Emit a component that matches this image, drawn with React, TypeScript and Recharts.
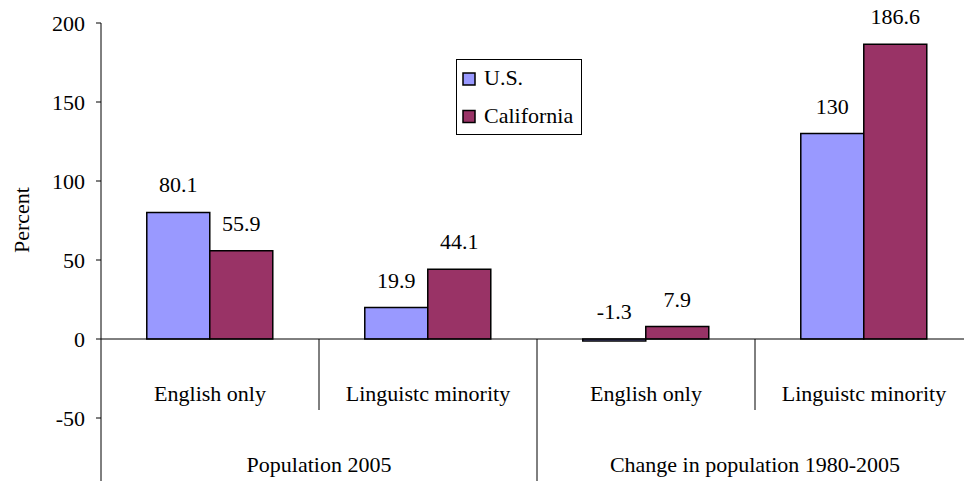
import React from "react"
import { BarChart, Bar, XAxis, YAxis, ReferenceLine, Legend, LabelList } from "recharts"

const categories = ["English only", "Linguistc minority", "English only", "Linguistc minority"]
const groups = ["Population 2005", "Change in population 1980-2005"]
const seriesNames = ["U.S.", "California"]
const usValues = [80.1, 19.9, -1.3, 130]
const caValues = [55.9, 44.1, 7.9, 186.6]
const yTicks = [-50, 0, 50, 100, 150, 200]
const yDomain = [-100, 200]

const data = categories.map((c, i) => ({ key: i, name: c, us: usValues[i], ca: caValues[i] }))

const FONT = "Liberation Serif, Times New Roman, serif"
const W = 990
const H = 517
const TOP = 23
const AXIS_H = 20
const BOTTOM = 0
const AXIS_W = 101
const RIGHT = 17
const PLOT_H = H - TOP - BOTTOM - AXIS_H
const ZERO_Y = TOP + (PLOT_H * yDomain[1]) / (yDomain[1] - yDomain[0])
const BAND = (W - AXIS_W - RIGHT) / categories.length

function CategoryTick(props: any) {
  const { x, payload, index } = props
  const i = typeof payload?.value === "number" ? payload.value : index
  const left = x - BAND / 2
  return (
    <g>
      <text x={x} y={ZERO_Y + 62} textAnchor="middle" fontSize={22} fontFamily={FONT} fill="#000">
        {categories[i]}
      </text>
      {(i === 1 || i === 3) && <line x1={left} x2={left} y1={ZERO_Y} y2={ZERO_Y + 71} stroke="#000" />}
      {i === 2 && <line x1={left} x2={left} y1={ZERO_Y} y2={H} stroke="#000" />}
      {i % 2 === 0 && (
        <text x={x + BAND / 2} y={ZERO_Y + 133} textAnchor="middle" fontSize={22} fontFamily={FONT} fill="#000">
          {groups[i / 2]}
        </text>
      )}
    </g>
  )
}

function ValueLabel(props: any) {
  const vb = props.viewBox ?? props
  const { x, y, width, height } = vb
  const top = Math.min(y, y + height)
  return (
    <text x={x + width / 2} y={top - 20} textAnchor="middle" fontSize={22} fontFamily={FONT} fill="#000">
      {props.value}
    </text>
  )
}

function LegendBox({ payload }: any) {
  const items = [...(payload || [])].sort(
    (a: any, b: any) => seriesNames.indexOf(a.value) - seriesNames.indexOf(b.value)
  )
  return (
    <svg width={126} height={76} style={{ display: "block" }}>
      <rect x={0.5} y={0.5} width={125} height={75} fill="#fff" stroke="#000" />
      {items.map((p: any, i: number) => (
        <g key={p.value}>
          <rect x={7} y={14 + i * 37.5} width={12} height={12} fill={p.color} stroke="#000" strokeWidth={1.5} />
          <text x={28} y={26 + i * 38} fontSize={22} fontFamily={FONT} fill="#000">
            {p.value}
          </text>
        </g>
      ))}
    </svg>
  )
}

export default function App() {
  return (
    <div style={{ position: "absolute", left: 0, top: 0, width: 964, height: 481, overflow: "hidden", background: "#fff" }}>
      <BarChart
        width={W}
        height={H}
        data={data}
        margin={{ top: TOP, right: RIGHT, bottom: BOTTOM, left: 0 }}
        barCategoryGap="21%"
        barGap={0}
      >
        <XAxis
          dataKey="key"
          type="category"
          height={AXIS_H}
          axisLine={false}
          tickLine={false}
          interval={0}
          tick={(p: any) => <CategoryTick {...p} />}
        />
        <YAxis
          width={AXIS_W}
          domain={yDomain}
          ticks={yTicks}
          allowDataOverflow
          axisLine={{ stroke: "#000" }}
          tickLine={{ stroke: "#000" }}
          tickSize={5}
          tickMargin={11}
          tick={{ fill: "#000", fontSize: 22, fontFamily: FONT }}
          label={{
            content: () => (
              <text x={21} y={220} transform="rotate(-90, 21, 220)" textAnchor="middle" dominantBaseline="central" fontSize={22} fontFamily={FONT} fill="#000">
                Percent
              </text>
            ),
          }}
        />
        <ReferenceLine y={0} stroke="#000" />
        <Legend
          layout="vertical"
          align="center"
          verticalAlign="middle"
          content={<LegendBox />}
          wrapperStyle={{ left: 456, top: 59, width: 126, height: 76 }}
        />
        <Bar dataKey="us" name={seriesNames[0]} fill="#9999FF" stroke="#000" strokeWidth={1.5} isAnimationActive={false}>
          <LabelList dataKey="us" content={<ValueLabel />} />
        </Bar>
        <Bar dataKey="ca" name={seriesNames[1]} fill="#993366" stroke="#000" strokeWidth={1.5} isAnimationActive={false}>
          <LabelList dataKey="ca" content={<ValueLabel />} />
        </Bar>
      </BarChart>
    </div>
  )
}
